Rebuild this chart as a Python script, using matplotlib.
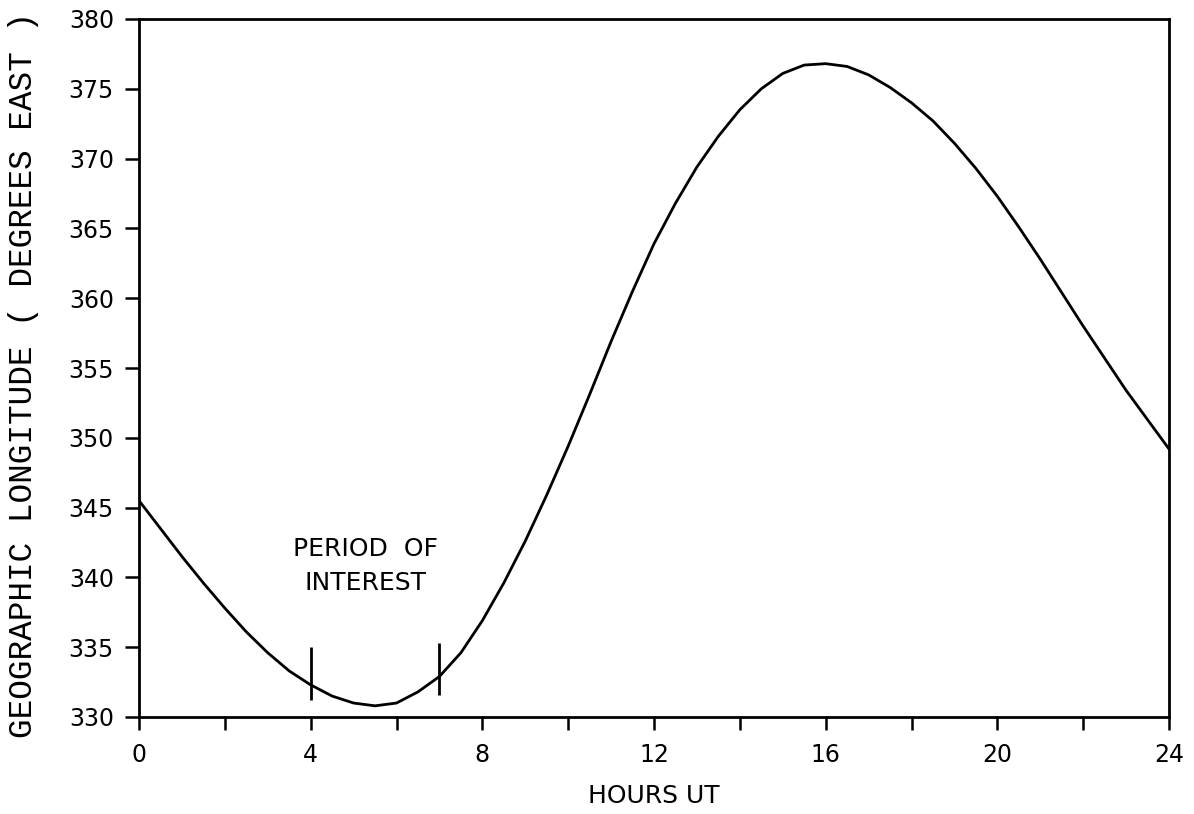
import numpy as np
import matplotlib.pyplot as plt

# longitude every half hour
hours = [0, 0.5, 1, 1.5, 2, 2.5, 3, 3.5, 4, 4.5, 5, 5.5, 6, 6.5, 7, 7.5, 8,
         8.5, 9, 9.5, 10, 10.5, 11, 11.5, 12, 12.5, 13, 13.5, 14, 14.5, 15,
         15.5, 16, 16.5, 17, 17.5, 18, 18.5, 19, 19.5, 20, 20.5, 21, 21.5,
         22, 22.5, 23, 23.5, 24]
longitude = [345.5, 343.5, 341.5, 339.6, 337.8, 336.1, 334.6, 333.3, 332.3,
             331.5, 331.0, 330.8, 331.0, 331.8, 332.9, 334.6, 336.9, 339.6,
             342.6, 345.9, 349.4, 353.1, 356.9, 360.5, 363.9, 366.8, 369.4,
             371.6, 373.5, 375.0, 376.1, 376.7, 376.8, 376.6, 376.0, 375.1,
             374.0, 372.7, 371.1, 369.3, 367.3, 365.1, 362.8, 360.4, 358.0,
             355.7, 353.4, 351.3, 349.2]

# markers for the period of interest
period_hours = [4, 7]
period_low = [331.2, 331.6]
period_high = [335.0, 335.3]

x_ticks = [0, 4, 8, 12, 16, 20, 24]
y_ticks = [330, 335, 340, 345, 350, 355, 360, 365, 370, 375, 380]

fig = plt.figure(figsize=(11.94, 8.14), dpi=100)
ax = fig.add_axes([139 / 1194, 97 / 814, 1030 / 1194, 698 / 814])

ax.plot(hours, longitude, color='black', lw=2.0, solid_joinstyle='round')
ax.vlines(period_hours, period_low, period_high, color='black', lw=2.0)
ax.text(5.27, 342.0, 'PERIOD  OF', ha='center', va='center', fontsize=18)
ax.text(5.27, 339.6, 'INTEREST', ha='center', va='center', fontsize=18)

ax.set_xlim(0, 24)
ax.set_ylim(330, 380)
ax.set_xticks(x_ticks)
ax.set_xticks([2, 6, 10, 14, 18, 22], minor=True)
ax.set_yticks(y_ticks)
ax.tick_params(axis='both', which='both', direction='out', width=1.8,
               labelsize=17)
ax.tick_params(axis='x', which='both', length=9, pad=10)
ax.tick_params(axis='y', length=10, pad=8)
for s in ax.spines.values():
    s.set_linewidth(2.0)

ax.set_xlabel('HOURS UT', fontsize=18, labelpad=12)
ax.set_ylabel('GEOGRAPHIC LONGITUDE ( DEGREES EAST )',
              fontname='Liberation Mono', fontsize=23.5)
ax.yaxis.set_label_coords(-0.097, 0.49)

fig.savefig('out.png', dpi=100)
